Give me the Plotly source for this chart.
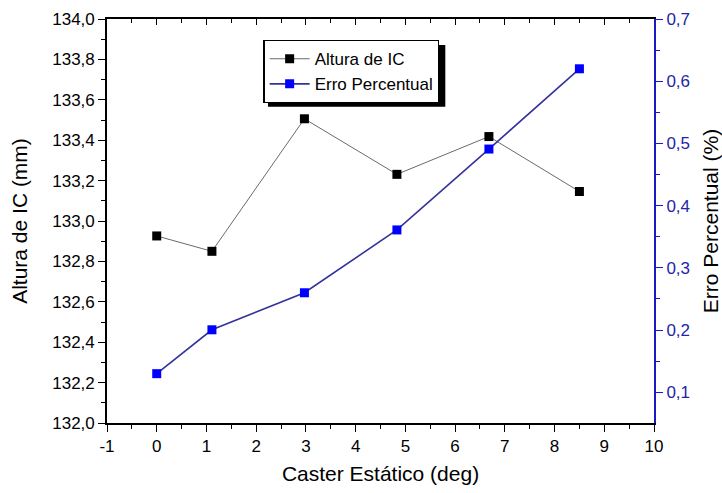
import plotly.graph_objects as go

# Caster angle (deg)
caster = [0.0, 1.11, 2.97, 4.83, 6.68, 8.5]
# Instant-centre height (mm)
altura_ic = [132.926, 132.85, 133.506, 133.231, 133.418, 133.146]
# Percentage error (%)
erro_pct = [0.130, 0.2005, 0.260, 0.361, 0.491, 0.620]

x_ticks = list(range(-1, 11))

FONT = "Liberation Sans, Arial, sans-serif"
BLUE_AX = "#1a1ac8"
BLUE_TXT = "#2424a8"

fig = go.Figure()

fig.add_trace(go.Scatter(
    x=caster, y=altura_ic, name="Altura de IC",
    mode="lines+markers",
    line=dict(color="#6a6a6a", width=1),
    marker=dict(symbol="square", size=9, color="black"),
    xaxis="x", yaxis="y",
))
fig.add_trace(go.Scatter(
    x=caster, y=erro_pct, name="Erro Percentual",
    mode="lines+markers",
    line=dict(color="#33339a", width=1.6),
    marker=dict(symbol="square", size=9, color="#0000ff"),
    xaxis="x", yaxis="y2",
))
# invisible carrier so the top frame axis is drawn
fig.add_trace(go.Scatter(
    x=[caster[0]], y=[altura_ic[0]], mode="markers",
    marker=dict(opacity=0), showlegend=False, hoverinfo="skip",
    xaxis="x2", yaxis="y",
))

common_x = dict(
    range=[-1, 10], showgrid=False, zeroline=False, automargin=False,
    showline=True, linecolor="black", linewidth=1.6,
)

fig.update_layout(
    width=722, height=493,
    margin=dict(l=107, r=68, t=19, b=70),
    paper_bgcolor="white", plot_bgcolor="white",
    separators=",.",
    font=dict(family=FONT, size=17, color="black"),
    showlegend=True,
    legend=dict(
        x=0.286, y=0.948, xanchor="left", yanchor="top",
        bgcolor="white", bordercolor="black", borderwidth=1.2,
        font=dict(family=FONT, size=17, color="black"),
        tracegroupgap=0, itemwidth=40,
    ),
    xaxis=dict(
        **common_x,
        tickmode="array", tickvals=x_ticks, ticktext=[str(v) for v in x_ticks],
        ticks="outside", ticklen=7, tickwidth=1.4, tickcolor="black",
        minor=dict(dtick=0.5, tick0=-1, ticks="outside", ticklen=4, tickwidth=1.2, tickcolor="black"),
        tickfont=dict(size=17),
        title=dict(text="Caster Estático (deg)", font=dict(size=21), standoff=11),
    ),
    xaxis2=dict(
        **common_x,
        overlaying="x", side="top", anchor="y",
        tickmode="array", tickvals=x_ticks,
        ticks="inside", ticklen=6, tickwidth=1.4, tickcolor="black",
        minor=dict(dtick=0.5, tick0=-1, ticks="inside", ticklen=4, tickwidth=1.2, tickcolor="black"),
        showticklabels=False,
    ),
    yaxis=dict(
        range=[132, 134], dtick=0.2, tick0=132, tickformat=".1f",
        showgrid=False, zeroline=False, automargin=False,
        showline=True, linecolor="black", linewidth=1.6,
        ticks="outside", ticklen=7, tickwidth=1.4, tickcolor="black",
        minor=dict(dtick=0.1, ticks="outside", ticklen=4, tickwidth=1.2, tickcolor="black"),
        tickfont=dict(size=17),
        title=dict(text="Altura de IC (mm)", font=dict(size=21), standoff=19),
    ),
    yaxis2=dict(
        overlaying="y", side="right", anchor="x",
        range=[0.0507, 0.7], dtick=0.1, tick0=0.1, tickformat=".1f",
        showgrid=False, zeroline=False, automargin=False,
        showline=True, linecolor=BLUE_AX, linewidth=2,
        ticks="outside", ticklen=7, tickwidth=1.4, tickcolor=BLUE_AX,
        minor=dict(dtick=0.05, tick0=0.05, ticks="outside", ticklen=4, tickwidth=1.2, tickcolor=BLUE_AX),
        tickfont=dict(size=17, color=BLUE_TXT),
        title=dict(text="Erro Percentual (%)", font=dict(size=21, color="black"), standoff=17),
    ),
)

# drop shadow behind the legend box
fig.add_shape(
    type="rect", xref="paper", yref="paper", layer="below",
    x0=0.2943, x1=0.6185, y0=0.7825, y1=0.9357,
    fillcolor="black", line=dict(width=0),
)

fig.write_html("out.html")
